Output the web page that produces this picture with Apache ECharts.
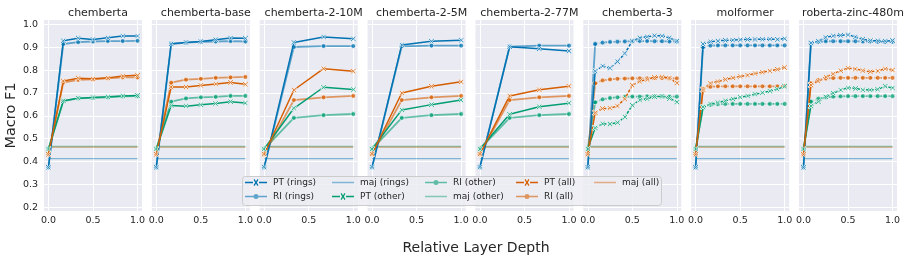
<!DOCTYPE html>
<html>
<head>
<meta charset="utf-8">
<script src="https://cdn.jsdelivr.net/npm/echarts@6/dist/echarts.min.js"></script>
<style>
html, body { margin: 0; padding: 0; background: #fff; }
#chart { width: 907px; height: 261px; }
</style>
</head>
<body>
<div id="chart"></div>
<script>
// panel titles
const panelNames = ["chemberta", "chemberta-base", "chemberta-2-10M", "chemberta-2-5M",
  "chemberta-2-77M", "chemberta-3", "molformer", "roberta-zinc-480m"];

// relative layer depth of each probed layer
const depths6 = [0, 0.1667, 0.3333, 0.5, 0.6667, 0.8333, 1];
const depths3 = [0, 0.3333, 0.6667, 1];
const depths12 = [0, 0.0833, 0.1667, 0.25, 0.3333, 0.4167, 0.5, 0.5833, 0.6667, 0.75, 0.8333, 0.9167, 1];
const panelDepths = [depths6, depths6, depths3, depths3, depths3, depths12, depths12, depths12];
// deep models: the layer-to-layer part is drawn dashed
const panelDashed = [false, false, false, false, false, true, true, true];

const ptRings = [
  [0.375, 0.928, 0.939, 0.934, 0.941, 0.949, 0.949],
  [0.375, 0.915, 0.921, 0.925, 0.933, 0.940, 0.939],
  [0.375, 0.921, 0.945, 0.937],
  [0.375, 0.910, 0.926, 0.930],
  [0.375, 0.902, 0.893, 0.883],
  [0.375, 0.795, 0.818, 0.808, 0.837, 0.873, 0.927, 0.941, 0.946, 0.950, 0.950, 0.941, 0.926],
  [0.375, 0.914, 0.924, 0.928, 0.930, 0.931, 0.933, 0.934, 0.934, 0.935, 0.935, 0.934, 0.937],
  [0.375, 0.918, 0.926, 0.943, 0.950, 0.952, 0.955, 0.945, 0.935, 0.929, 0.928, 0.926, 0.929]
];
const riRings = [
  [0.375, 0.914, 0.922, 0.925, 0.927, 0.927, 0.928],
  [0.375, 0.914, 0.920, 0.924, 0.925, 0.927, 0.925],
  [0.375, 0.901, 0.905, 0.905],
  [0.375, 0.904, 0.907, 0.907],
  [0.375, 0.902, 0.907, 0.907],
  [0.375, 0.914, 0.920, 0.923, 0.924, 0.925, 0.926, 0.927, 0.927, 0.926, 0.926, 0.925, 0.925],
  [0.375, 0.900, 0.907, 0.908, 0.908, 0.908, 0.908, 0.908, 0.908, 0.908, 0.908, 0.908, 0.908],
  [0.375, 0.917, 0.923, 0.926, 0.926, 0.926, 0.926, 0.926, 0.925, 0.925, 0.924, 0.923, 0.924]
];
const ptOther = [
  [0.455, 0.666, 0.677, 0.680, 0.683, 0.687, 0.689],
  [0.455, 0.645, 0.642, 0.649, 0.654, 0.662, 0.656],
  [0.455, 0.633, 0.725, 0.715],
  [0.455, 0.626, 0.649, 0.669],
  [0.455, 0.607, 0.640, 0.655],
  [0.455, 0.548, 0.565, 0.564, 0.570, 0.595, 0.646, 0.669, 0.675, 0.684, 0.685, 0.676, 0.661],
  [0.455, 0.638, 0.652, 0.658, 0.666, 0.674, 0.681, 0.687, 0.694, 0.701, 0.708, 0.717, 0.729],
  [0.455, 0.643, 0.662, 0.684, 0.699, 0.713, 0.723, 0.720, 0.714, 0.713, 0.716, 0.729, 0.722]
];
const riOther = [
  [0.455, 0.664, 0.676, 0.679, 0.681, 0.685, 0.686],
  [0.455, 0.662, 0.676, 0.681, 0.683, 0.687, 0.687],
  [0.455, 0.591, 0.603, 0.608],
  [0.455, 0.591, 0.603, 0.608],
  [0.455, 0.591, 0.603, 0.608],
  [0.455, 0.659, 0.672, 0.678, 0.681, 0.683, 0.684, 0.684, 0.685, 0.685, 0.685, 0.684, 0.684],
  [0.455, 0.638, 0.648, 0.651, 0.652, 0.652, 0.652, 0.652, 0.652, 0.652, 0.652, 0.652, 0.652],
  [0.455, 0.662, 0.675, 0.681, 0.684, 0.685, 0.686, 0.686, 0.686, 0.686, 0.686, 0.686, 0.686]
];
const ptAll = [
  [0.432, 0.752, 0.764, 0.762, 0.766, 0.774, 0.777],
  [0.432, 0.726, 0.726, 0.733, 0.739, 0.746, 0.738],
  [0.432, 0.713, 0.806, 0.795],
  [0.432, 0.700, 0.729, 0.749],
  [0.432, 0.687, 0.714, 0.729],
  [0.432, 0.614, 0.632, 0.633, 0.643, 0.675, 0.734, 0.751, 0.759, 0.768, 0.771, 0.765, 0.744],
  [0.432, 0.715, 0.743, 0.750, 0.759, 0.766, 0.772, 0.778, 0.785, 0.791, 0.797, 0.803, 0.811],
  [0.432, 0.735, 0.752, 0.770, 0.784, 0.797, 0.808, 0.805, 0.798, 0.793, 0.796, 0.806, 0.800]
];
const riAll = [
  [0.432, 0.745, 0.757, 0.760, 0.764, 0.768, 0.768],
  [0.432, 0.745, 0.758, 0.762, 0.766, 0.768, 0.770],
  [0.432, 0.669, 0.681, 0.687],
  [0.432, 0.669, 0.681, 0.687],
  [0.432, 0.669, 0.681, 0.687],
  [0.432, 0.742, 0.755, 0.759, 0.762, 0.763, 0.764, 0.764, 0.764, 0.765, 0.765, 0.764, 0.764],
  [0.432, 0.718, 0.727, 0.729, 0.729, 0.729, 0.729, 0.729, 0.729, 0.729, 0.729, 0.729, 0.730],
  [0.432, 0.742, 0.756, 0.763, 0.765, 0.766, 0.766, 0.766, 0.766, 0.766, 0.766, 0.766, 0.766]
];
// majority-class baselines
const majRings = 0.413;
const majOther = 0.466;
const majAll = 0.463;

const yTicks = [0.2, 0.3, 0.4, 0.5, 0.6, 0.7, 0.8, 0.9, 1.0];
const xTicks = [0, 0.5, 1];

const groups = [
  { key: "rings", color: "#0173b2", pt: ptRings, ri: riRings, maj: majRings },
  { key: "other", color: "#029e73", pt: ptOther, ri: riOther, maj: majOther },
  { key: "all", color: "#d55e00", pt: ptAll, ri: riAll, maj: majAll }
];

const X_PATH = "path://M0,1.5 L1.5,0 L5,3.5 L8.5,0 L10,1.5 L6.5,5 L10,8.5 L8.5,10 L5,6.5 L1.5,10 L0,8.5 L3.5,5 Z";
// legend icons: line with marker in the middle
const PT_ICON = "path://M0,2.8 L8,2.8 L8,4.2 L0,4.2 Z M14,2.8 L22,2.8 L22,4.2 L14,4.2 Z " +
  "M8.6,0.8 L9.6,0 L11,2.5 L12.4,0 L13.4,0.8 L11.9,3.5 L13.4,6.2 L12.4,7 L11,4.5 L9.6,7 L8.6,6.2 L10.1,3.5 Z";
const RI_ICON = "path://M0,2.8 L8.6,2.8 L8.6,4.2 L0,4.2 Z M13.4,2.8 L22,2.8 L22,4.2 L13.4,4.2 Z " +
  "M11,1 A2.5,2.5 0 1 1 11,6 A2.5,2.5 0 1 1 11,1 Z M0,0 L0.01,0 L0.01,0.01 Z M0,7 L0.01,7 L0.01,6.99 Z";
const MAJ_ICON = "path://M0,2.8 L22,2.8 L22,4.2 L0,4.2 Z M0,0 L0.01,0 L0.01,0.01 Z M0,7 L0.01,7 L0.01,6.99 Z";

const textColor = "#262626";
const pitch = 107.86;
const plotW = 98;

const grids = [], xAxes = [], yAxes = [], titles = [], series = [];

function addProbe(i, name, pts, symbol, size, z, lineStyle, itemStyle) {
  if (!panelDashed[i]) {
    series.push({ name, type: "line", xAxisIndex: i, yAxisIndex: i, data: pts, symbol, symbolSize: size,
      z, silent: true, lineStyle, itemStyle });
    return;
  }
  // first jump solid, rest dashed
  series.push({ name, type: "line", xAxisIndex: i, yAxisIndex: i, data: pts.slice(0, 2), symbol, symbolSize: size,
    z, silent: true, lineStyle, itemStyle });
  series.push({ name, type: "line", xAxisIndex: i, yAxisIndex: i, data: pts.slice(1), symbol, symbolSize: size,
    z, silent: true, lineStyle: Object.assign({}, lineStyle, { type: [3, 1.6] }), itemStyle });
}

panelNames.forEach((name, i) => {
  const left = 44 + i * pitch;
  grids.push({ left: left, top: 20, width: plotW, height: 191, show: true,
    backgroundColor: "#eaeaf2", borderWidth: 0 });
  xAxes.push({ gridIndex: i, type: "value", min: -0.05, max: 1.05,
    axisLine: { show: false }, axisTick: { show: false, customValues: xTicks },
    axisLabel: { customValues: xTicks, color: textColor, fontSize: 9.5, margin: 5,
      fontFamily: "DejaVu Sans", formatter: v => v.toFixed(1) },
    splitLine: { show: true, lineStyle: { color: "#fff", width: 1 } } });
  yAxes.push({ gridIndex: i, type: "value", min: 0.184, max: 1.019,
    name: i === 0 ? "Macro F1" : "", nameLocation: "middle", nameGap: 25,
    nameTextStyle: { fontSize: 14.5, color: textColor, fontFamily: "DejaVu Sans" },
    axisLine: { show: false }, axisTick: { show: false, customValues: yTicks },
    axisLabel: { show: i === 0, customValues: yTicks, color: textColor, fontSize: 9.5, margin: 6,
      fontFamily: "DejaVu Sans", formatter: v => v.toFixed(1) },
    splitLine: { show: true, lineStyle: { color: "#fff", width: 1 } } });
  titles.push({ text: name, left: left + plotW / 2, top: 3, textAlign: "center",
    textStyle: { fontSize: 11, fontWeight: "normal", color: textColor, fontFamily: "DejaVu Sans" } });

  const depths = panelDepths[i];
  groups.forEach(g => {
    series.push({
      name: "maj (" + g.key + ")", type: "line", xAxisIndex: i, yAxisIndex: i,
      data: [[0, g.maj], [1, g.maj]], symbol: "none", z: 1, silent: true,
      lineStyle: { color: g.color, width: 1.3, opacity: 0.45 }, itemStyle: { color: g.color, opacity: 0.45 }
    });
  });
  groups.forEach(g => {
    addProbe(i, "RI (" + g.key + ")", depths.map((d, k) => [d, g.ri[i][k]]), "circle", 4.8, 2,
      { color: g.color, width: 1.8, opacity: 0.6 },
      { color: g.color, opacity: 0.75, borderColor: "#fff", borderWidth: 0.8 });
  });
  groups.forEach(g => {
    addProbe(i, "PT (" + g.key + ")", depths.map((d, k) => [d, g.pt[i][k]]), X_PATH, 5.5, 3,
      { color: g.color, width: 1.5 },
      { color: g.color, borderColor: "#fff", borderWidth: 0.8 });
  });
});

titles.push({ text: "Relative Layer Depth", left: 471, top: 236, textAlign: "center",
  textStyle: { fontSize: 14, fontWeight: "normal", color: textColor, fontFamily: "DejaVu Sans" } });

// legend: 2 rows x 5 columns, filled column by column
const colorOf = { rings: "#0173b2", other: "#029e73", all: "#d55e00" };
const legendCells = [
  ["PT", "rings", 245, 0], ["RI", "rings", 245, 1],
  ["maj", "rings", 332, 0], ["PT", "other", 332, 1],
  ["RI", "other", 425, 0], ["maj", "other", 425, 1],
  ["PT", "all", 516, 0], ["RI", "all", 516, 1],
  ["maj", "all", 594, 0]
];
const iconOf = { PT: PT_ICON, RI: RI_ICON, maj: MAJ_ICON };
const opacityOf = { PT: 1, RI: 0.6, maj: 0.45 };
const rowTops = [178, 192];
const legends = legendCells.map(c => ({
  data: [{ name: c[0] + " (" + c[1] + ")", icon: iconOf[c[0]],
    itemStyle: { color: colorOf[c[1]], opacity: opacityOf[c[0]], borderWidth: 0 } }],
  left: c[2], top: rowTops[c[3]], padding: 0,
  itemWidth: 22, itemHeight: 7, itemGap: 0, selectedMode: false,
  textStyle: { fontSize: 9, color: textColor, fontFamily: "DejaVu Sans", padding: [0, 0, 0, 1] }
}));

const chart = echarts.init(document.getElementById("chart"), null, { renderer: "canvas" });
chart.setOption({
  animation: false,
  backgroundColor: "#fff",
  title: titles,
  grid: grids,
  xAxis: xAxes,
  yAxis: yAxes,
  legend: legends,
  graphic: [{
    type: "rect", z: 3, silent: true,
    shape: { x: 242.5, y: 176.5, width: 419, height: 29, r: 3 },
    style: { fill: "rgba(236,236,243,0.85)", stroke: "#cccccc", lineWidth: 1 }
  }],
  series: series
});
</script>
</body>
</html>
